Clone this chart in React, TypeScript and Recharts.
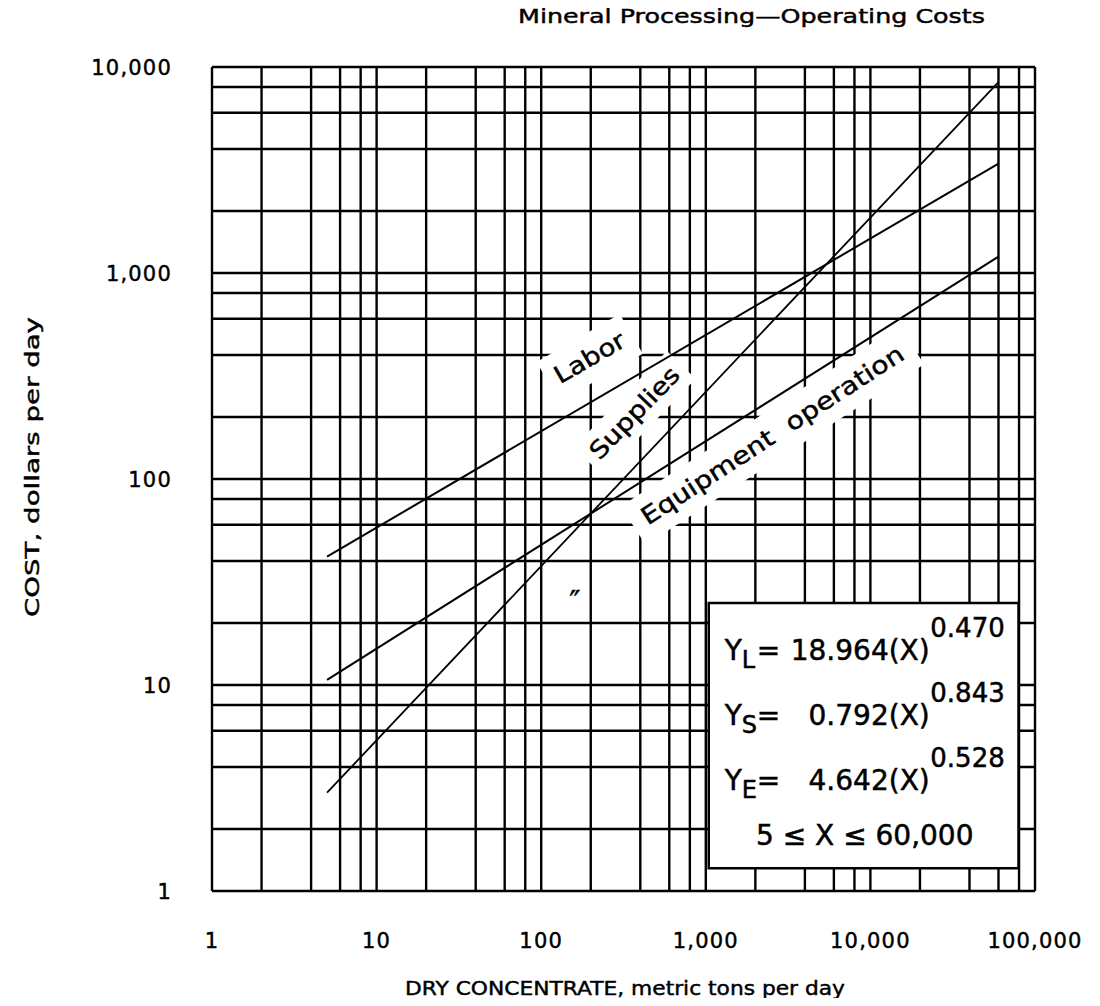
import React from "react";
import {
  LineChart,
  Line,
  XAxis,
  YAxis,
  CartesianGrid,
  ReferenceArea,
  ReferenceDot,
} from "recharts";

// ---- data ----
const xTickValues = [1, 10, 100, 1000, 10000, 100000];
const yTickValues = [1, 10, 100, 1000, 10000];
const xGridValues = [
  1, 2, 4, 6, 8, 10, 20, 40, 60, 80, 100, 200, 400, 600, 800, 1000, 2000, 4000,
  6000, 8000, 10000, 20000, 40000, 60000, 80000, 100000,
];
const yGridValues = [
  1, 2, 4, 6, 8, 10, 20, 40, 60, 80, 100, 200, 400, 600, 800, 1000, 2000, 4000,
  6000, 8000, 10000,
];
const laborData = [
  { x: 5, y: 42 },
  { x: 60000, y: 3400 },
];
const suppliesData = [
  { x: 5, y: 3.0 },
  { x: 60000, y: 8450 },
];
const equipmentData = [
  { x: 5, y: 10.6 },
  { x: 60000, y: 1200 },
];

const FONT = "'DejaVu Sans', sans-serif";
const W = 1084;
const H = 990;
const TXT = { fill: "#000", stroke: "#000", strokeWidth: 0.45 };

const fmt = (v: number) => v.toLocaleString("en-US");

const XTick = (props: any) => {
  const { x, y, payload } = props;
  return (
    <text
      x={x}
      y={y + 57}
      textAnchor="middle"
      fontFamily={FONT}
      fontSize={21}
      letterSpacing={1.2}
      {...TXT}
    >
      {fmt(payload.value)}
    </text>
  );
};

const YTick = (props: any) => {
  const { x, y, payload } = props;
  return (
    <text
      x={x - 40}
      y={y + 8}
      textAnchor="end"
      fontFamily={FONT}
      fontSize={21}
      letterSpacing={1.2}
      {...TXT}
    >
      {fmt(payload.value)}
    </text>
  );
};

// Label: text drawn on top, plus an SVG mask (in chart user space) that
// knocks the grid out behind the text, so data lines stay intact.
const makeLabel =
  (
    id: string,
    text: string,
    angle: number,
    w: number,
    h: number,
    fs: number,
    len: number
  ) =>
  (props: any) => {
    const { cx, cy } = props;
    const tf = `translate(${cx},${cy}) rotate(${angle})`;
    return (
      <g>
        <defs>
          <mask
            id={id}
            maskUnits="userSpaceOnUse"
            x={-50}
            y={-50}
            width={W + 100}
            height={H + 100}
          >
            <rect x={-50} y={-50} width={W + 100} height={H + 100} fill="#fff" />
            <rect
              transform={tf}
              x={-w / 2}
              y={-h / 2}
              width={w}
              height={h}
              fill="#000"
            />
          </mask>
        </defs>
        <g transform={tf}>
          <text
            x={0}
            y={0}
            textAnchor="middle"
            dominantBaseline="central"
            fontFamily={FONT}
            fontSize={fs}
            textLength={len}
            lengthAdjust="spacingAndGlyphs"
            style={{ whiteSpace: "pre" }}
            {...TXT}
          >
            {text}
          </text>
        </g>
      </g>
    );
  };

const tickMark = (props: any) => {
  const { cx, cy } = props;
  return (
    <text
      x={cx}
      y={cy}
      textAnchor="middle"
      dominantBaseline="central"
      fontFamily={FONT}
      fontSize={30}
      {...TXT}
    >
      ″
    </text>
  );
};

const LegendContent = (props: any) => {
  const vb = props.viewBox || {};
  const bx = vb.x ?? 0;
  const by = vb.y ?? 0;
  const rows = [
    { sub: "L", coef: "18.964(X)", exp: "0.470" },
    { sub: "S", coef: "0.792(X)", exp: "0.843" },
    { sub: "E", coef: "4.642(X)", exp: "0.528" },
  ];
  return (
    <g fontFamily={FONT} {...TXT} strokeWidth={0.5}>
      {rows.map((r, i) => {
        const base = by + 57 + i * 65;
        return (
          <g key={r.sub}>
            <text x={bx + 16} y={base} fontSize={28}>
              Y
            </text>
            <text x={bx + 33} y={base + 8} fontSize={24}>
              {r.sub}
            </text>
            <text x={bx + 48} y={base} fontSize={28}>
              =
            </text>
            <text x={bx + 221} y={base} fontSize={28} textAnchor="end">
              {r.coef}
            </text>
            <text x={bx + 296} y={base - 23} fontSize={26} textAnchor="end">
              {r.exp}
            </text>
          </g>
        );
      })}
      <text x={bx + 156} y={by + 242} fontSize={28} textAnchor="middle">
        5 ≤ X ≤ 60,000
      </text>
    </g>
  );
};

const css = `
.recharts-surface{overflow:visible}
.recharts-cartesian-grid{mask:url(#mask-labor)}
.recharts-cartesian-grid-horizontal,.recharts-cartesian-grid-vertical{mask:url(#mask-supplies)}
.recharts-cartesian-grid-horizontal line,.recharts-cartesian-grid-vertical line{mask:url(#mask-equip)}
`;

export default function App() {
  return (
    <div style={{ width: W, height: H }}>
      <style>{css}</style>
      <LineChart
        width={W}
        height={H}
        margin={{ top: 59, right: 57, left: 0, bottom: 0 }}
      >
        <CartesianGrid
          stroke="#000"
          strokeWidth={2.4}
          horizontalValues={yGridValues}
          verticalValues={xGridValues}
        />
        <XAxis
          type="number"
          dataKey="x"
          scale="log"
          domain={[1, 100000]}
          allowDataOverflow
          ticks={xTickValues}
          interval={0}
          tickLine={false}
          axisLine={false}
          tickSize={0}
          tickMargin={0}
          height={107}
          tick={<XTick />}
        />
        <YAxis
          type="number"
          dataKey="y"
          scale="log"
          domain={[1, 10000]}
          allowDataOverflow
          ticks={yTickValues}
          interval={0}
          tickLine={false}
          axisLine={false}
          tickSize={0}
          tickMargin={0}
          width={204}
          tick={<YTick />}
        />
        <ReferenceArea
          x1={1042}
          x2={79400}
          y1={1.29}
          y2={25}
          fill="#fff"
          fillOpacity={1}
          stroke="#000"
          strokeWidth={2.5}
          label={<LegendContent />}
        />
        <ReferenceDot
          x={197}
          y={387}
          r={1}
          shape={makeLabel("mask-labor", "Labor", -30, 96, 46, 24, 78)}
        />
        <ReferenceDot
          x={370}
          y={209}
          r={1}
          shape={makeLabel("mask-supplies", "Supplies", -46, 134, 40, 24, 118)}
        />
        <ReferenceDot
          x={2540}
          y={163}
          r={1}
          shape={makeLabel(
            "mask-equip",
            "Equipment  operation",
            -33,
            332,
            46,
            24,
            308
          )}
        />
        <ReferenceDot x={160} y={25.5} r={1} shape={tickMark} />
        <Line
          data={laborData}
          dataKey="y"
          stroke="#000"
          strokeWidth={2}
          dot={false}
          isAnimationActive={false}
        />
        <Line
          data={suppliesData}
          dataKey="y"
          stroke="#000"
          strokeWidth={1.8}
          dot={false}
          isAnimationActive={false}
        />
        <Line
          data={equipmentData}
          dataKey="y"
          stroke="#000"
          strokeWidth={2}
          dot={false}
          isAnimationActive={false}
        />
        <text
          x={510}
          y={15}
          fontFamily={FONT}
          fontSize={20}
          textLength={467}
          lengthAdjust="spacingAndGlyphs"
          {...TXT}
        >
          Mineral Processing—Operating Costs
        </text>
        <text
          x={617}
          y={987}
          textAnchor="middle"
          fontFamily={FONT}
          fontSize={20}
          textLength={440}
          lengthAdjust="spacingAndGlyphs"
          {...TXT}
        >
          DRY CONCENTRATE, metric tons per day
        </text>
        <text
          transform="translate(31,459) rotate(-90)"
          x={0}
          y={0}
          textAnchor="middle"
          fontFamily={FONT}
          fontSize={20}
          textLength={300}
          lengthAdjust="spacingAndGlyphs"
          {...TXT}
        >
          COST, dollars per day
        </text>
      </LineChart>
    </div>
  );
}
